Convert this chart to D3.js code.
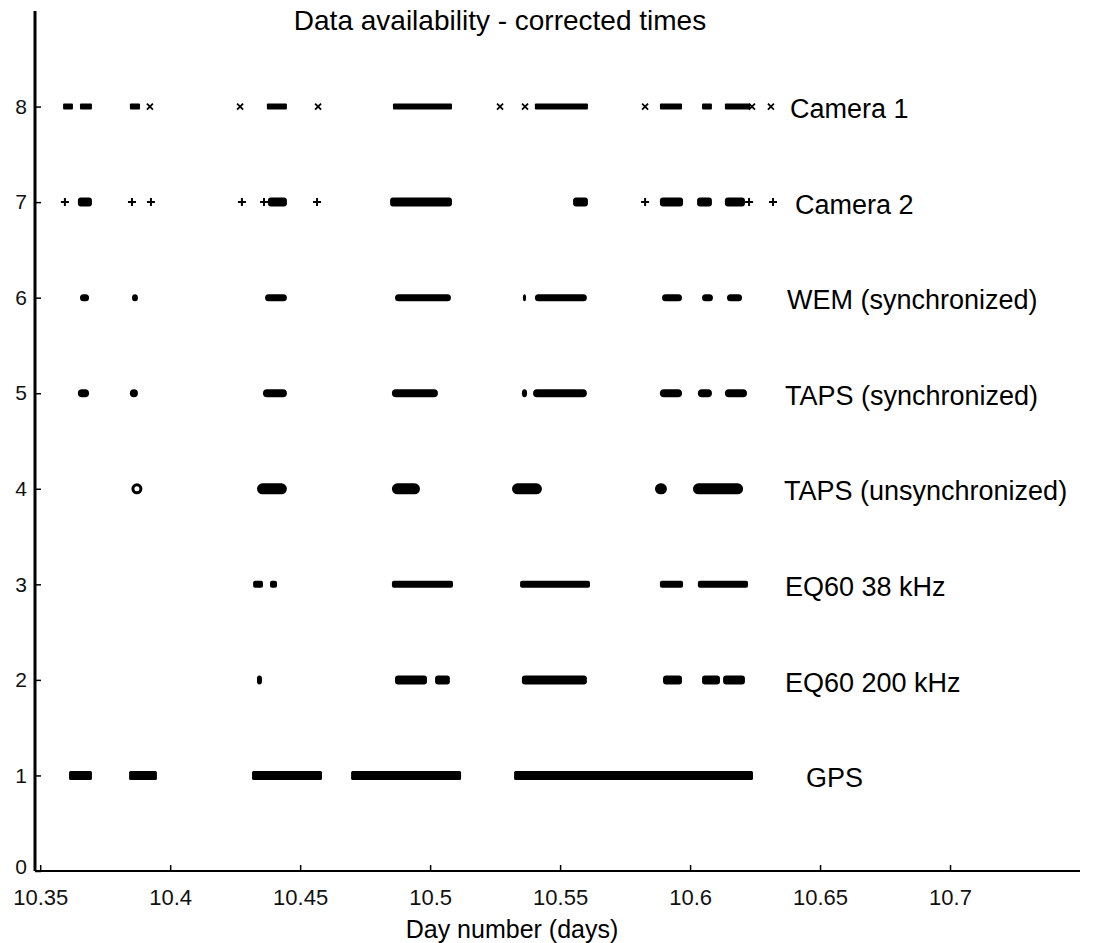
<!DOCTYPE html>
<html>
<head>
<meta charset="utf-8">
<script src="https://cdn.jsdelivr.net/npm/d3@7"></script>
<style>
  html, body { margin: 0; padding: 0; background: #fff; }
  svg { display: block; font-family: "Liberation Sans", Arial, Helvetica, sans-serif; }
</style>
</head>
<body>
<svg id="chart" width="1098" height="943"></svg>
<script>
// ---------------- data ----------------
const titleText = "Data availability - corrected times";
const xLabel = "Day number (days)";
const xTicks = [10.35, 10.4, 10.45, 10.5, 10.55, 10.6, 10.65, 10.7];
const xTickLabels = ["10.35", "10.4", "10.45", "10.5", "10.55", "10.6", "10.65", "10.7"];
const yTicks = [0, 1, 2, 3, 4, 5, 6, 7, 8];
const rowNames = ["GPS", "EQ60 200 kHz", "EQ60 38 kHz", "TAPS (unsynchronized)", "TAPS (synchronized)", "WEM (synchronized)", "Camera 2", "Camera 1"];
const rowLevels = [1, 2, 3, 4, 5, 6, 7, 8];

// coverage intervals [start, end] in days, per instrument
const gps = [[10.3611, 10.3699], [10.3842, 10.3949], [10.4315, 10.4584], [10.4696, 10.5119], [10.5323, 10.6242]];
const eq200 = [[10.4334, 10.4353], [10.4865, 10.4988], [10.5019, 10.5076], [10.5353, 10.5603], [10.5896, 10.5969], [10.6046, 10.6115], [10.6127, 10.6211]];
const eq38 = [[10.4319, 10.4357], [10.4384, 10.4411], [10.4853, 10.5088], [10.5346, 10.5615], [10.5884, 10.5973], [10.6030, 10.6223]];
const tapsUnsync = [[10.4334, 10.4449], [10.4853, 10.4961], [10.5315, 10.5430], [10.5865, 10.5911], [10.6011, 10.6204]];
const tapsUnsyncRings = [10.3872];
const tapsSync = [[10.3645, 10.3688], [10.3845, 10.3876], [10.4357, 10.4449], [10.4853, 10.5030], [10.5353, 10.5373], [10.5396, 10.5603], [10.5884, 10.5969], [10.6030, 10.6084], [10.6134, 10.6219]];
const wem = [[10.3653, 10.3688], [10.3853, 10.3876], [10.4365, 10.4449], [10.4865, 10.5080], [10.5357, 10.5369], [10.5403, 10.5603], [10.5892, 10.5969], [10.6046, 10.6088], [10.6142, 10.6200]];
const camera2 = [[10.3645, 10.3699], [10.4376, 10.4449], [10.4846, 10.5084], [10.5550, 10.5607], [10.5884, 10.5973], [10.6027, 10.6084], [10.6134, 10.6211]];
const camera1 = [[10.3588, 10.3626], [10.3653, 10.3699], [10.3845, 10.3884], [10.4372, 10.4449], [10.4857, 10.5084], [10.5403, 10.5607], [10.5884, 10.5969], [10.6046, 10.6084], [10.6134, 10.6231]];
// isolated single records
const camera2Points = [10.3595, 10.3853, 10.3926, 10.4276, 10.4361, 10.4565, 10.5827, 10.6227, 10.6319];
const camera1Points = [10.3922, 10.4269, 10.4569, 10.5269, 10.5365, 10.5827, 10.6238, 10.6311];

const rowIntervals = [gps, eq200, eq38, tapsUnsync, tapsSync, wem, camera2, camera1];

// ---------------- drawing ----------------
const svg = d3.select("#chart");
const W = 1098, H = 943;
svg.append("rect").attr("width", W).attr("height", H).attr("fill", "#fff");

const x = d3.scaleLinear().domain([10.348, 10.75]).range([35, 1080]);
const y = d3.scaleLinear().domain([0, 9]).range([871, 11]);

const thick = [9, 9, 7, 11, 8, 7, 9, 6];
const radius = [1.5, 3, 2, 5.5, 4, 3.5, 3, 1];
const labelX = [806, 785, 785, 784, 785, 787, 795, 790];

// intervals
rowIntervals.forEach((ivs, i) => {
  const lev = rowLevels[i];
  const t = thick[i];
  svg.append("g").selectAll("rect").data(ivs).join("rect")
    .attr("x", d => x(d[0]))
    .attr("width", d => Math.max(x(d[1]) - x(d[0]), 2))
    .attr("y", y(lev) - t / 2)
    .attr("height", t)
    .attr("rx", radius[i])
    .attr("fill", "#000");
});

// TAPS unsync "o" ring
svg.append("g").selectAll("circle").data(tapsUnsyncRings).join("circle")
  .attr("cx", d => x(d)).attr("cy", y(4)).attr("r", 4)
  .attr("fill", "#fff").attr("stroke", "#000").attr("stroke-width", 3);

// Camera 2 "+" markers
svg.append("g").selectAll("path").data(camera2Points).join("path")
  .attr("d", d => `M${x(d) - 4},${y(7)}H${x(d) + 4}M${x(d)},${y(7) - 4}V${y(7) + 4}`)
  .attr("stroke", "#000").attr("stroke-width", 2).attr("fill", "none");
// Camera 1 "x" markers
svg.append("g").selectAll("path").data(camera1Points).join("path")
  .attr("d", d => `M${x(d) - 3},${y(8) - 3}L${x(d) + 3},${y(8) + 3}M${x(d) - 3},${y(8) + 3}L${x(d) + 3},${y(8) - 3}`)
  .attr("stroke", "#000").attr("stroke-width", 1.8).attr("fill", "none");

// axes
const xAxis = d3.axisBottom(x).tickValues(xTicks).tickFormat((d, i) => xTickLabels[i]).tickSize(-6).tickPadding(18);
const gx = svg.append("g").attr("transform", `translate(0,${y(0)})`).call(xAxis);
gx.select(".domain").attr("stroke", "#000").attr("stroke-width", 2).attr("d", `M${x.range()[0]},0H${x.range()[1]}`);
gx.selectAll(".tick line").attr("stroke", "#000").attr("stroke-width", 1.5);
gx.selectAll(".tick text").attr("font-size", 22).attr("fill", "#111").attr("font-family", "'Liberation Sans', Arial, sans-serif");

const yAxis = d3.axisLeft(y).tickValues(yTicks).tickFormat(d3.format("d")).tickSize(-6).tickPadding(8);
const gy = svg.append("g").attr("transform", `translate(${x.range()[0]},0)`).call(yAxis);
gy.select(".domain").attr("stroke", "#000").attr("stroke-width", 3).attr("d", `M0,${y(0)}V${y.range()[1]}`);
gy.selectAll(".tick line").attr("stroke", "#000").attr("stroke-width", 1.5);
gy.selectAll(".tick text").attr("font-size", 21).attr("fill", "#111").attr("font-family", "'Liberation Sans', Arial, sans-serif");
// lift the "0" label slightly so it clears the x tick labels
gy.selectAll(".tick").filter(d => d === 0).select("text").attr("dy", "0.1em");

// row labels
const labelSize = 27;
svg.append("g").selectAll("text").data(rowNames).join("text")
  .attr("x", (d, i) => labelX[i])
  .attr("y", (d, i) => y(rowLevels[i]) + labelSize * 0.36 + 2)
  .attr("font-size", labelSize)
  .attr("fill", "#000")
  .text(d => d);

// title
svg.append("text").attr("x", 500).attr("y", 30).attr("text-anchor", "middle")
  .attr("font-size", 28).attr("fill", "#000").text(titleText);

// x label
svg.append("text").attr("x", 512).attr("y", 938).attr("text-anchor", "middle")
  .attr("font-size", 25).attr("fill", "#000").text(xLabel);
</script>
</body>
</html>
